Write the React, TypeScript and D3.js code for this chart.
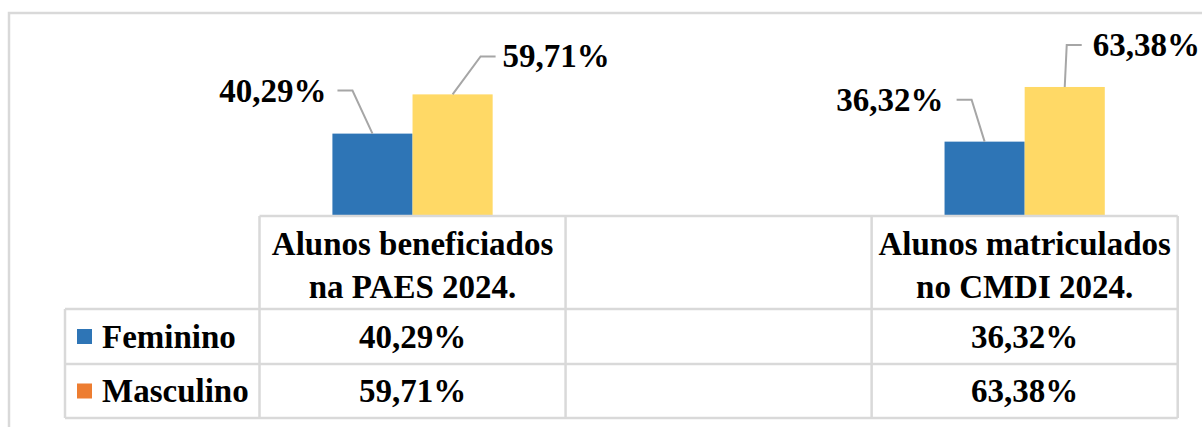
import React from "react";
import * as d3 from "d3";

// ---- data ----
const categories = ["Alunos beneficiados na PAES 2024.", "", "Alunos matriculados no CMDI 2024."];
const categoryLines = [["Alunos beneficiados", "na PAES 2024."], [], ["Alunos matriculados", "no CMDI 2024."]];
const seriesNames = ["Feminino", "Masculino"];
const feminino = [40.29, null, 36.32];
const masculino = [59.71, null, 63.38];

// ---- style / layout ----
const W = 1202;
const H = 427;
const colors = { Feminino: "#2E75B6", Masculino: "#FFD966" };
const legendColors = { Feminino: "#2E75B6", Masculino: "#ED7D31" };
const gridColor = "#d9d9d9";
const leaderColor = "#a6a6a6";
const font = "'Liberation Serif', 'Times New Roman', serif";
const fs = 33;

// data label layout: elbow offset from bar top, side, text gap
const labelLayout = {
  Feminino: [{ ex: -20, ey: -43, gap: 11 }, null, { ex: -13, ey: -42, gap: 13 }],
  Masculino: [{ ex: 28, ey: -38, gap: 7 }, null, { ex: 2, ey: -42, gap: 11 }],
};

const fmt = (v: number) => d3.format(".2f")(v).replace(".", ",") + "%";

export default function App() {
  const tableLeft = 259.5;
  const tableRight = 1177.7;
  const legendLeft = 65;
  const baseY = 215;
  const headerTop = 216;
  const headerBottom = 309;
  const row1Bottom = 364;
  const row2Bottom = 418;

  const x0 = d3.scaleBand<string>().domain(categories).range([tableLeft, tableRight]);
  const x1 = d3
    .scaleBand<string>()
    .domain(seriesNames)
    .range([0, x0.bandwidth()])
    .paddingInner(0)
    .paddingOuter(0.91);
  const y = d3.scaleLinear().domain([0, 70]).range([baseY, baseY - 70 * 2.02]);

  const seriesData: Record<string, (number | null)[]> = { Feminino: feminino, Masculino: masculino };

  const rowBounds = [
    [headerBottom, row1Bottom],
    [row1Bottom, row2Bottom],
  ];

  const textStyle = { fontFamily: font, fontWeight: 700, fontSize: fs, fill: "#000" } as const;

  return (
    <svg
      width={W}
      height={H}
      viewBox={`0 0 ${W} ${H}`}
      style={{ position: "absolute", left: 0, top: 0, display: "block", background: "#fff" }}
    >
      <rect x={0} y={0} width={W} height={H} fill="#fff" />
      {/* outer chart frame */}
      <rect x={9} y={13} width={W + 20} height={H + 20} fill="none" stroke={gridColor} strokeWidth={2.5} />

      {/* bars */}
      {seriesNames.map((s) =>
        categories.map((c, i) => {
          const v = seriesData[s][i];
          if (v == null) return null;
          return (
            <rect
              key={s + i}
              x={(x0(c) as number) + (x1(s) as number)}
              y={y(v)}
              width={x1.bandwidth()}
              height={y(0) - y(v)}
              fill={(colors as any)[s]}
            />
          );
        })
      )}

      {/* data labels with leader lines */}
      {seriesNames.map((s) =>
        categories.map((c, i) => {
          const v = seriesData[s][i];
          const lay = (labelLayout as any)[s][i];
          if (v == null || !lay) return null;
          const bx = (x0(c) as number) + (x1(s) as number) + x1.bandwidth() / 2;
          const by = y(v);
          const ex = bx + lay.ex;
          const ey = by + lay.ey;
          const dir = lay.ex < 0 || s === "Feminino" ? -1 : 1;
          const hx = ex + dir * 15;
          const tx = hx + dir * lay.gap;
          return (
            <g key={"l" + s + i}>
              <polyline
                points={`${bx},${by} ${ex},${ey} ${hx},${ey}`}
                fill="none"
                stroke={leaderColor}
                strokeWidth={2}
              />
              <text x={tx} y={ey + 11} textAnchor={dir < 0 ? "end" : "start"} style={textStyle}>
                {fmt(v)}
              </text>
            </g>
          );
        })
      )}

      {/* data table grid */}
      <g stroke={gridColor} strokeWidth={2.5} fill="none">
        <line x1={tableLeft} x2={tableRight} y1={headerTop} y2={headerTop} />
        <line x1={legendLeft} x2={tableRight} y1={headerBottom} y2={headerBottom} />
        <line x1={legendLeft} x2={tableRight} y1={row1Bottom} y2={row1Bottom} />
        <line x1={legendLeft} x2={tableRight} y1={row2Bottom} y2={row2Bottom} />
        <line x1={legendLeft} x2={legendLeft} y1={headerBottom} y2={row2Bottom} />
        {categories.map((c) => (
          <line key={"v" + c} x1={x0(c)} x2={x0(c)} y1={headerTop} y2={row2Bottom} />
        ))}
        <line x1={tableRight} x2={tableRight} y1={headerTop} y2={row2Bottom} />
      </g>

      {/* header texts */}
      {categories.map((c, i) =>
        categoryLines[i].map((ln, j) => (
          <text
            key={"h" + i + j}
            x={(x0(c) as number) + x0.bandwidth() / 2}
            y={255 + j * 43}
            textAnchor="middle"
            style={textStyle}
          >
            {ln}
          </text>
        ))
      )}

      {/* legend rows and values */}
      {seriesNames.map((s, r) => {
        const [t, b] = rowBounds[r];
        const cy = (t + b) / 2;
        return (
          <g key={"row" + s}>
            <rect x={77} y={cy - 7.5} width={15} height={15} fill={(legendColors as any)[s]} />
            <text x={102} y={cy + 11} style={textStyle}>
              {s}
            </text>
            {categories.map((c, i) => {
              const v = seriesData[s][i];
              if (v == null) return null;
              return (
                <text
                  key={"v" + s + i}
                  x={(x0(c) as number) + x0.bandwidth() / 2}
                  y={cy + 11}
                  textAnchor="middle"
                  style={textStyle}
                >
                  {fmt(v)}
                </text>
              );
            })}
          </g>
        );
      })}
    </svg>
  );
}
